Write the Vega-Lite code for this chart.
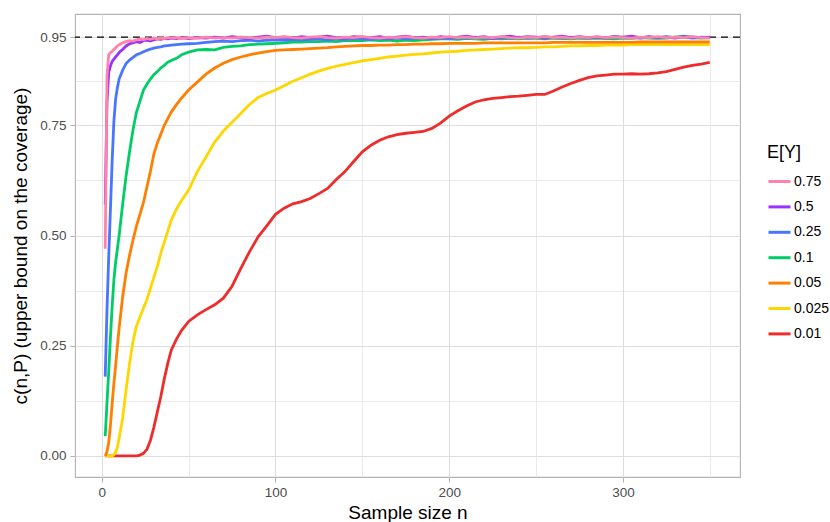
{
 "$schema": "https://vega.github.io/schema/vega-lite/v6.json",
 "width": 665, "height": 463,
 "autosize": {"type": "none"},
 "padding": {"left": 75, "top": 14, "right": 90, "bottom": 45},
 "background": "white",
 "config": {
  "font": "Liberation Sans",
  "view": {"stroke": "#b3b3b3", "strokeWidth": 1.1},
  "axis": {"gridColor": "#dedede", "tickColor": "#b3b3b3", "labelColor": "#4d4d4d", "labelFontSize": 13.5, "titleColor": "#000000", "titleFontSize": 19, "titleFontWeight": "normal", "domain": false, "tickSize": 5, "tickWidth": 1}
 },
 "datasets": {
  "d": [
   {"n":2,"0_01":0,"0_025":0,"0_05":0,"0_1":0.045,"0_25":0.18,"0_5":0.57,"0_75":0.47},
   {"n":3,"0_01":0,"0_025":0,"0_05":0.01,"0_1":0.12,"0_25":0.33,"0_5":0.80,"0_75":0.86},
   {"n":4,"0_01":0,"0_025":0,"0_05":0.03,"0_1":0.19,"0_25":0.45,"0_5":0.87,"0_75":0.91},
   {"n":5,"0_01":0,"0_025":0,"0_05":0.07,"0_1":0.27,"0_25":0.56,"0_5":0.885,"0_75":0.915},
   {"n":6,"0_01":0,"0_025":0,"0_05":0.12,"0_1":0.34,"0_25":0.67,"0_5":0.895,"0_75":0.918},
   {"n":7,"0_01":0,"0_025":0.003,"0_05":0.165,"0_1":0.40,"0_25":0.76,"0_5":0.90,"0_75":0.922},
   {"n":8,"0_01":0,"0_025":0.008,"0_05":0.205,"0_1":0.44,"0_25":0.81,"0_5":0.905,"0_75":0.926},
   {"n":9,"0_01":0,"0_025":0.02,"0_05":0.25,"0_1":0.47,"0_25":0.835,"0_5":0.91,"0_75":0.93},
   {"n":10,"0_01":0,"0_025":0.04,"0_05":0.29,"0_1":0.50,"0_25":0.855,"0_5":0.915,"0_75":0.933},
   {"n":12,"0_01":0,"0_025":0.085,"0_05":0.36,"0_1":0.57,"0_25":0.875,"0_5":0.922,"0_75":0.937},
   {"n":14,"0_01":0,"0_025":0.15,"0_05":0.415,"0_1":0.635,"0_25":0.89,"0_5":0.93,"0_75":0.94},
   {"n":16,"0_01":0,"0_025":0.21,"0_05":0.455,"0_1":0.69,"0_25":0.898,"0_5":0.935,"0_75":0.942},
   {"n":18,"0_01":0,"0_025":0.26,"0_05":0.49,"0_1":0.74,"0_25":0.904,"0_5":0.937,"0_75":0.941},
   {"n":20,"0_01":0,"0_025":0.295,"0_05":0.522,"0_1":0.78,"0_25":0.91,"0_5":0.94,"0_75":0.944},
   {"n":22,"0_01":0.002,"0_025":0.315,"0_05":0.548,"0_1":0.805,"0_25":0.913,"0_5":0.938,"0_75":0.946},
   {"n":24,"0_01":0.006,"0_025":0.335,"0_05":0.575,"0_1":0.83,"0_25":0.917,"0_5":0.942,"0_75":0.944},
   {"n":26,"0_01":0.015,"0_025":0.355,"0_05":0.61,"0_1":0.843,"0_25":0.92,"0_5":0.943,"0_75":0.947},
   {"n":28,"0_01":0.035,"0_025":0.38,"0_05":0.645,"0_1":0.855,"0_25":0.923,"0_5":0.941,"0_75":0.945},
   {"n":30,"0_01":0.065,"0_025":0.405,"0_05":0.685,"0_1":0.865,"0_25":0.925,"0_5":0.944,"0_75":0.948},
   {"n":32,"0_01":0.10,"0_025":0.43,"0_05":0.71,"0_1":0.872,"0_25":0.927,"0_5":0.946,"0_75":0.946},
   {"n":34,"0_01":0.135,"0_025":0.46,"0_05":0.73,"0_1":0.88,"0_25":0.928,"0_5":0.945,"0_75":0.948},
   {"n":36,"0_01":0.175,"0_025":0.485,"0_05":0.75,"0_1":0.886,"0_25":0.93,"0_5":0.947,"0_75":0.947},
   {"n":38,"0_01":0.21,"0_025":0.51,"0_05":0.765,"0_1":0.893,"0_25":0.931,"0_5":0.946,"0_75":0.949},
   {"n":40,"0_01":0.24,"0_025":0.535,"0_05":0.78,"0_1":0.897,"0_25":0.932,"0_5":0.948,"0_75":0.948},
   {"n":43,"0_01":0.265,"0_025":0.56,"0_05":0.797,"0_1":0.902,"0_25":0.933,"0_5":0.947,"0_75":0.949},
   {"n":46,"0_01":0.285,"0_025":0.58,"0_05":0.812,"0_1":0.91,"0_25":0.934,"0_5":0.949,"0_75":0.947},
   {"n":50,"0_01":0.305,"0_025":0.603,"0_05":0.83,"0_1":0.916,"0_25":0.935,"0_5":0.947,"0_75":0.949},
   {"n":55,"0_01":0.32,"0_025":0.645,"0_05":0.848,"0_1":0.921,"0_25":0.936,"0_5":0.949,"0_75":0.948},
   {"n":60,"0_01":0.332,"0_025":0.678,"0_05":0.866,"0_1":0.922,"0_25":0.938,"0_5":0.948,"0_75":0.950},
   {"n":65,"0_01":0.343,"0_025":0.712,"0_05":0.88,"0_1":0.921,"0_25":0.94,"0_5":0.950,"0_75":0.948},
   {"n":70,"0_01":0.358,"0_025":0.737,"0_05":0.891,"0_1":0.927,"0_25":0.941,"0_5":0.948,"0_75":0.949},
   {"n":75,"0_01":0.385,"0_025":0.757,"0_05":0.899,"0_1":0.929,"0_25":0.940,"0_5":0.951,"0_75":0.948},
   {"n":80,"0_01":0.425,"0_025":0.777,"0_05":0.905,"0_1":0.93,"0_25":0.942,"0_5":0.949,"0_75":0.950},
   {"n":85,"0_01":0.463,"0_025":0.797,"0_05":0.91,"0_1":0.933,"0_25":0.943,"0_5":0.948,"0_75":0.949},
   {"n":90,"0_01":0.497,"0_025":0.813,"0_05":0.914,"0_1":0.934,"0_25":0.941,"0_5":0.950,"0_75":0.948},
   {"n":95,"0_01":0.522,"0_025":0.822,"0_05":0.917,"0_1":0.935,"0_25":0.943,"0_5":0.952,"0_75":0.950},
   {"n":100,"0_01":0.548,"0_025":0.83,"0_05":0.92,"0_1":0.936,"0_25":0.944,"0_5":0.949,"0_75":0.949},
   {"n":105,"0_01":0.562,"0_025":0.84,"0_05":0.921,"0_1":0.937,"0_25":0.943,"0_5":0.950,"0_75":0.951},
   {"n":110,"0_01":0.572,"0_025":0.85,"0_05":0.922,"0_1":0.939,"0_25":0.945,"0_5":0.948,"0_75":0.949},
   {"n":115,"0_01":0.577,"0_025":0.858,"0_05":0.923,"0_1":0.939,"0_25":0.944,"0_5":0.951,"0_75":0.948},
   {"n":120,"0_01":0.584,"0_025":0.866,"0_05":0.924,"0_1":0.94,"0_25":0.945,"0_5":0.949,"0_75":0.950},
   {"n":125,"0_01":0.595,"0_025":0.873,"0_05":0.925,"0_1":0.94,"0_25":0.946,"0_5":0.950,"0_75":0.951},
   {"n":130,"0_01":0.607,"0_025":0.879,"0_05":0.926,"0_1":0.941,"0_25":0.944,"0_5":0.952,"0_75":0.949},
   {"n":135,"0_01":0.627,"0_025":0.884,"0_05":0.928,"0_1":0.94,"0_25":0.946,"0_5":0.949,"0_75":0.948},
   {"n":140,"0_01":0.645,"0_025":0.888,"0_05":0.929,"0_1":0.942,"0_25":0.945,"0_5":0.948,"0_75":0.950},
   {"n":145,"0_01":0.668,"0_025":0.892,"0_05":0.93,"0_1":0.943,"0_25":0.947,"0_5":0.951,"0_75":0.949},
   {"n":150,"0_01":0.69,"0_025":0.896,"0_05":0.931,"0_1":0.942,"0_25":0.946,"0_5":0.950,"0_75":0.951},
   {"n":155,"0_01":0.705,"0_025":0.899,"0_05":0.931,"0_1":0.944,"0_25":0.945,"0_5":0.949,"0_75":0.949},
   {"n":160,"0_01":0.716,"0_025":0.902,"0_05":0.932,"0_1":0.942,"0_25":0.947,"0_5":0.951,"0_75":0.948},
   {"n":165,"0_01":0.724,"0_025":0.905,"0_05":0.932,"0_1":0.943,"0_25":0.946,"0_5":0.948,"0_75":0.950},
   {"n":170,"0_01":0.729,"0_025":0.907,"0_05":0.933,"0_1":0.941,"0_25":0.948,"0_5":0.950,"0_75":0.949},
   {"n":175,"0_01":0.732,"0_025":0.909,"0_05":0.933,"0_1":0.943,"0_25":0.946,"0_5":0.952,"0_75":0.951},
   {"n":180,"0_01":0.734,"0_025":0.911,"0_05":0.934,"0_1":0.942,"0_25":0.947,"0_5":0.949,"0_75":0.949},
   {"n":185,"0_01":0.736,"0_025":0.912,"0_05":0.934,"0_1":0.944,"0_25":0.949,"0_5":0.950,"0_75":0.948},
   {"n":190,"0_01":0.743,"0_025":0.914,"0_05":0.935,"0_1":0.945,"0_25":0.947,"0_5":0.948,"0_75":0.950},
   {"n":195,"0_01":0.755,"0_025":0.916,"0_05":0.935,"0_1":0.946,"0_25":0.948,"0_5":0.951,"0_75":0.949},
   {"n":200,"0_01":0.771,"0_025":0.917,"0_05":0.936,"0_1":0.946,"0_25":0.947,"0_5":0.949,"0_75":0.951},
   {"n":205,"0_01":0.783,"0_025":0.918,"0_05":0.936,"0_1":0.945,"0_25":0.949,"0_5":0.950,"0_75":0.949},
   {"n":210,"0_01":0.794,"0_025":0.92,"0_05":0.936,"0_1":0.947,"0_25":0.948,"0_5":0.952,"0_75":0.950},
   {"n":215,"0_01":0.803,"0_025":0.921,"0_05":0.936,"0_1":0.946,"0_25":0.950,"0_5":0.949,"0_75":0.948},
   {"n":220,"0_01":0.808,"0_025":0.922,"0_05":0.937,"0_1":0.945,"0_25":0.948,"0_5":0.951,"0_75":0.950},
   {"n":225,"0_01":0.811,"0_025":0.923,"0_05":0.937,"0_1":0.947,"0_25":0.947,"0_5":0.948,"0_75":0.949},
   {"n":230,"0_01":0.813,"0_025":0.924,"0_05":0.937,"0_1":0.946,"0_25":0.949,"0_5":0.950,"0_75":0.951},
   {"n":235,"0_01":0.815,"0_025":0.925,"0_05":0.937,"0_1":0.947,"0_25":0.948,"0_5":0.952,"0_75":0.949},
   {"n":240,"0_01":0.816,"0_025":0.926,"0_05":0.937,"0_1":0.946,"0_25":0.950,"0_5":0.949,"0_75":0.948},
   {"n":245,"0_01":0.818,"0_025":0.926,"0_05":0.937,"0_1":0.948,"0_25":0.948,"0_5":0.951,"0_75":0.950},
   {"n":250,"0_01":0.82,"0_025":0.927,"0_05":0.937,"0_1":0.947,"0_25":0.949,"0_5":0.950,"0_75":0.949},
   {"n":255,"0_01":0.82,"0_025":0.928,"0_05":0.937,"0_1":0.946,"0_25":0.951,"0_5":0.948,"0_75":0.951},
   {"n":260,"0_01":0.828,"0_025":0.928,"0_05":0.938,"0_1":0.948,"0_25":0.949,"0_5":0.950,"0_75":0.949},
   {"n":265,"0_01":0.837,"0_025":0.929,"0_05":0.938,"0_1":0.947,"0_25":0.948,"0_5":0.952,"0_75":0.950},
   {"n":270,"0_01":0.845,"0_025":0.93,"0_05":0.938,"0_1":0.946,"0_25":0.950,"0_5":0.949,"0_75":0.948},
   {"n":275,"0_01":0.852,"0_025":0.93,"0_05":0.938,"0_1":0.948,"0_25":0.949,"0_5":0.951,"0_75":0.950},
   {"n":280,"0_01":0.858,"0_025":0.931,"0_05":0.938,"0_1":0.947,"0_25":0.948,"0_5":0.949,"0_75":0.949},
   {"n":285,"0_01":0.862,"0_025":0.931,"0_05":0.938,"0_1":0.948,"0_25":0.950,"0_5":0.950,"0_75":0.951},
   {"n":290,"0_01":0.864,"0_025":0.932,"0_05":0.938,"0_1":0.947,"0_25":0.949,"0_5":0.948,"0_75":0.949},
   {"n":295,"0_01":0.866,"0_025":0.932,"0_05":0.938,"0_1":0.946,"0_25":0.951,"0_5":0.951,"0_75":0.950},
   {"n":300,"0_01":0.866,"0_025":0.932,"0_05":0.938,"0_1":0.948,"0_25":0.949,"0_5":0.950,"0_75":0.949},
   {"n":305,"0_01":0.867,"0_025":0.933,"0_05":0.938,"0_1":0.947,"0_25":0.950,"0_5":0.952,"0_75":0.948},
   {"n":310,"0_01":0.866,"0_025":0.933,"0_05":0.939,"0_1":0.949,"0_25":0.948,"0_5":0.949,"0_75":0.950},
   {"n":315,"0_01":0.867,"0_025":0.933,"0_05":0.939,"0_1":0.948,"0_25":0.950,"0_5":0.951,"0_75":0.949},
   {"n":320,"0_01":0.869,"0_025":0.933,"0_05":0.939,"0_1":0.947,"0_25":0.949,"0_5":0.949,"0_75":0.951},
   {"n":325,"0_01":0.872,"0_025":0.933,"0_05":0.939,"0_1":0.948,"0_25":0.951,"0_5":0.950,"0_75":0.949},
   {"n":330,"0_01":0.877,"0_025":0.933,"0_05":0.939,"0_1":0.950,"0_25":0.949,"0_5":0.948,"0_75":0.950},
   {"n":335,"0_01":0.882,"0_025":0.933,"0_05":0.939,"0_1":0.952,"0_25":0.950,"0_5":0.951,"0_75":0.949},
   {"n":340,"0_01":0.886,"0_025":0.933,"0_05":0.939,"0_1":0.949,"0_25":0.948,"0_5":0.950,"0_75":0.951},
   {"n":345,"0_01":0.889,"0_025":0.933,"0_05":0.939,"0_1":0.948,"0_25":0.950,"0_5":0.949,"0_75":0.949},
   {"n":350,"0_01":0.893,"0_025":0.933,"0_05":0.939,"0_1":0.949,"0_25":0.949,"0_5":0.950,"0_75":0.948}
  ]
 },
 "resolve": {"axis": {"x": "independent", "y": "independent"}},
 "layer": [
  {
   "data": {"values": [{"gx": 50}]},
   "mark": {"type": "rule", "opacity": 0},
   "encoding": {
    "x": {"field": "gx", "type": "quantitative", "scale": {"domain": [-15.4, 367.4], "nice": false, "zero": false},
          "axis": {"orient": "bottom", "values": [50, 150, 250, 350], "grid": true, "gridWidth": 0.6, "labels": false, "ticks": false, "domain": false, "title": null}}
   }
  },
  {
   "data": {"values": [{"h": 0.95}]},
   "mark": {"type": "rule", "color": "#000000", "strokeWidth": 1.3, "strokeDash": [7, 5]},
   "encoding": {
    "y": {"field": "h", "type": "quantitative", "scale": {"domain": [-0.0477, 1.0025], "nice": false, "zero": false},
          "axis": {"orient": "left", "values": [0.125, 0.375, 0.625, 0.85], "grid": true, "gridWidth": 0.6, "labels": false, "ticks": false, "domain": false, "title": null}}
   }
  },
  {
   "data": {"name": "d"},
   "transform": [{"fold": ["0_01", "0_025", "0_05", "0_1", "0_25", "0_5", "0_75"], "as": ["ey", "v"]}],
   "mark": {"type": "line", "strokeWidth": 2.8, "clip": true},
   "encoding": {
    "x": {"field": "n", "type": "quantitative", "scale": {"domain": [-15.4, 367.4], "nice": false, "zero": false},
          "axis": {"orient": "bottom", "values": [0, 100, 200, 300], "grid": true, "gridWidth": 1.1, "labelPadding": 3, "title": "Sample size n", "titlePadding": 5}},
    "y": {"field": "v", "type": "quantitative", "scale": {"domain": [-0.0477, 1.0025], "nice": false, "zero": false},
          "axis": {"orient": "left", "values": [0, 0.25, 0.5, 0.75, 0.95], "format": ".2f", "grid": true, "gridWidth": 1.1, "labelPadding": 4, "title": "c(n,P) (upper bound on the coverage)", "titlePadding": 9}},
    "color": {"field": "ey", "type": "nominal",
              "scale": {"domain": ["0_75", "0_5", "0_25", "0_1", "0_05", "0_025", "0_01"],
                        "range": ["#FF82AB", "#9B30FF", "#4876FF", "#00CD66", "#FF7F00", "#FFD700", "#EE2C2C"]},
              "legend": {"title": "E[Y]", "orient": "none", "legendX": 692, "legendY": 130, "padding": 0,
                         "labelExpr": "replace(datum.label, '_', '.')",
                         "titleFontSize": 18, "titleFontWeight": "normal", "titleColor": "#000000", "titlePadding": 7,
                         "labelFontSize": 14, "labelColor": "#000000", "labelOffset": 2,
                         "symbolType": "stroke", "symbolSize": 484, "symbolStrokeWidth": 3, "rowPadding": 5.4}}
   }
  }
 ]
}
